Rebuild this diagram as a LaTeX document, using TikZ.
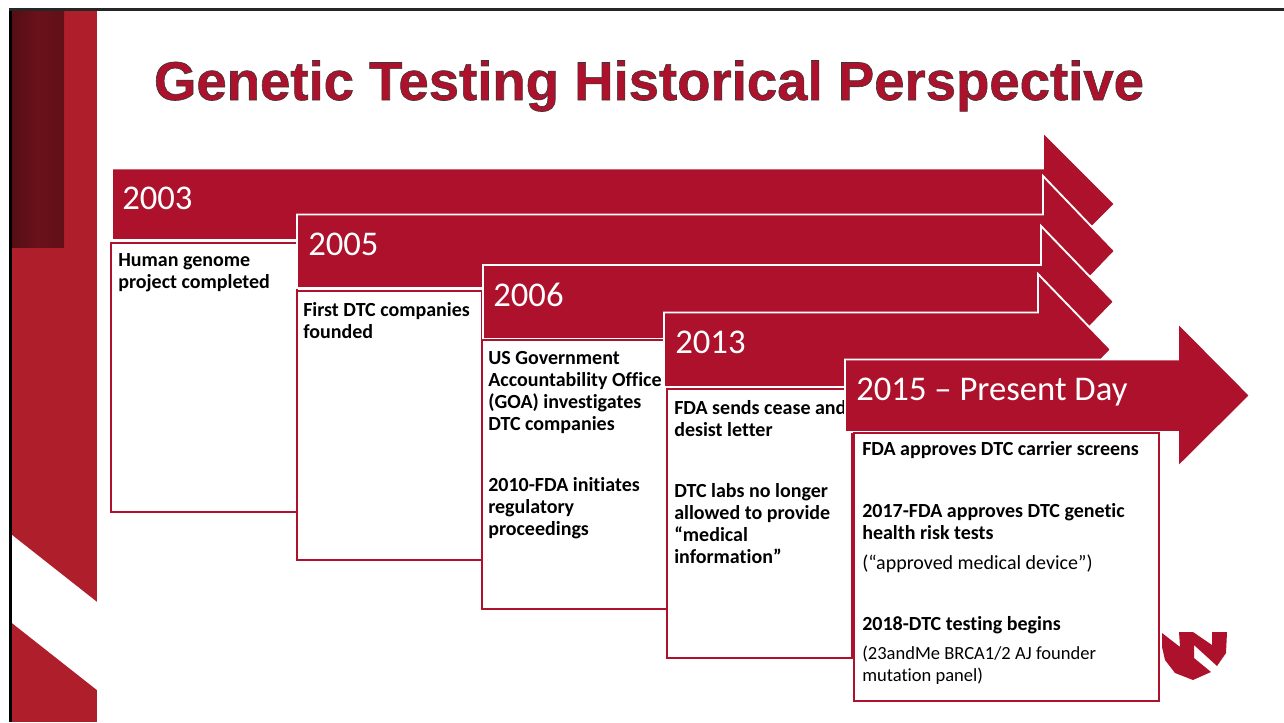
\documentclass[tikz,border=0pt]{standalone}
\usepackage{fontspec}
\setmainfont{Carlito}[Ligatures=NoCommon]
\newfontfamily\titlefont{Liberation Sans}
\definecolor{unmc}{HTML}{AD112B}
\definecolor{stripdark}{HTML}{6A111A}
\definecolor{stripred}{HTML}{AE1F2B}
\tikzset{
  x=0.75pt,y=-0.75pt,
  arrowshape/.style={fill=unmc,draw=white,line width=1.4pt,line join=miter},
  bodybox/.style={fill=white,draw=unmc,line width=1.7pt},
  yearlabel/.style={anchor=base west,text=white,font=\fontsize{26}{30}\selectfont,inner sep=0pt},
  bodytext/.style={anchor=north west,align=left,inner sep=0pt,font=\fontsize{15}{16.5}\selectfont\bfseries},
  smalltext/.style={anchor=north west,align=left,inner sep=0pt,font=\fontsize{15}{16.5}\selectfont},
}
\newcommand{\bigarrow}[8]{% name,left,top,bottom,neck,headtop,tip,headbottom
  \path[arrowshape] (#2,{#3-0.5}) -- ({#5-1},{#3-0.5}) -- ({#5-1},{#6-3}) -- ({#7+1},{(#3+#4)/2}) -- ({#5-1},{#8+3}) -- ({#5-1},{#4+1}) -- (#2,{#4+1}) -- cycle;
  \coordinate (#1) at (#2,#3);
}
\begin{document}
\begin{tikzpicture}
\useasboundingbox (0,0) rectangle (1284,722);
\fill[white] (0,0) rectangle (1284,722);
% side band
\fill[stripred] (12,10) rectangle (97,722);
\shade[left color=stripdark!80!black,right color=stripdark!92!black,middle color=stripdark] (12,10) rectangle (64,247);
\fill[white] (12,535) -- (97,602) -- (97,690) -- (12,623) -- cycle;
\fill[black] (9,8) rectangle (12,722);
\fill[black!85] (9,8) rectangle (1284,10.5);
% logo
\fill[unmc] (1162,633) -- (1180,647) -- (1179,632) -- (1193,632) -- (1212,645) -- (1212,632) -- (1227,632) -- (1226,653) -- (1217,666) -- (1194,645) -- (1194,658) -- (1211,672) -- (1193,680) -- (1175,673) -- (1165,660) -- (1162,647) -- cycle;
% title
\node[anchor=base,inner sep=0pt,text=unmc,font=\titlefont\fontsize{40.9}{48}\selectfont\bfseries] (title) at (649,100) {\special{pdf:code 2 Tr 0.45 w 0.22 0.22 0.22 RG}Genetic Testing Historical Perspective\special{pdf:code 0 Tr 0 G}};
% 2003
\bigarrow{a1}{112}{169}{239}{1044}{135}{1114}{273}
\node[yearlabel] (y1) at (122,209) {2003};
\draw[bodybox] (111,243) rectangle (297,512);
\node[bodytext] (t1) at (118,253) {Human genome\\project completed};
% 2005
\bigarrow{a2}{297}{215}{287}{1044}{179}{1114}{323}
\node[yearlabel] (y2) at (308,255) {2005};
\draw[bodybox] (297,291) rectangle (482,560);
\node[bodytext] (t2) at (303,302) {First DTC companies\\founded};
% 2006
\bigarrow{a3}{483}{265.5}{338}{1042}{229}{1113}{374}
\node[yearlabel] (y3) at (493,306) {2006};
\draw[bodybox] (482,340) rectangle (668,609);
\node[bodytext] (t3a) at (488,351) {US Government\\Accountability Office\\(GOA) investigates\\DTC companies};
\node[bodytext] (t3b) at (488,477) {2010-FDA initiates\\regulatory\\proceedings};
% 2013
\bigarrow{a4}{664}{313}{386}{1039}{277}{1110}{422}
\node[yearlabel] (y4) at (675,353) {2013};
\draw[bodybox] (667,389) rectangle (852,658);
\node[bodytext] (t4a) at (674,400) {FDA sends cease and\\desist letter};
\node[bodytext] (t4b) at (674,483) {DTC labs no longer\\allowed to provide\\“medical\\information”};
% 2015
\bigarrow{a5}{845}{360}{431}{1179}{326}{1249}{464}
\node[yearlabel] (y5) at (856,400) {2015 – Present Day};
\draw[bodybox] (854,433) rectangle (1159,701);
\node[bodytext] (t5a) at (862,441.5) {FDA approves DTC carrier screens};
\node[bodytext] (t5b) at (862,503) {2017-FDA approves DTC genetic\\health risk tests};
\node[smalltext] (t5c) at (862,555) {(“approved medical device”)};
\node[bodytext] (t5d) at (862,616) {2018-DTC testing begins};
\node[anchor=north west,align=left,inner sep=0pt,font=\fontsize{13.9}{16.5}\selectfont] (t5e) at (862,646) {(23andMe BRCA1/2 AJ founder\\mutation panel)};
\end{tikzpicture}
\end{document}
